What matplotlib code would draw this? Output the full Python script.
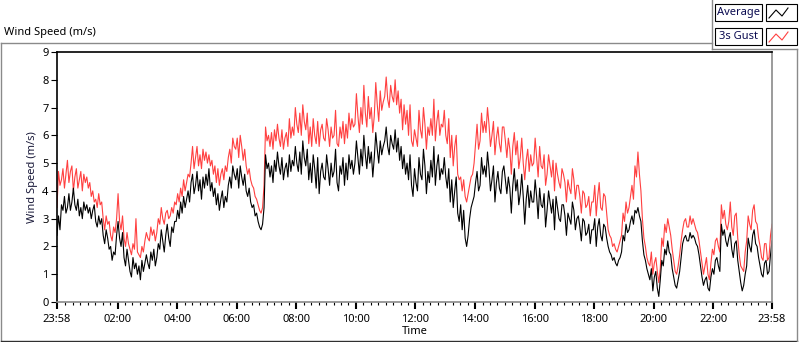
import numpy as np
import matplotlib
matplotlib.use("Agg")
import matplotlib.pyplot as plt
from matplotlib.lines import Line2D
from matplotlib.patches import Rectangle

plt.rcParams['font.family'] = ['Noto Sans', 'DejaVu Sans']

# ---------------- data (3-minute samples, 23:58 -> 23:58) ----------------
sample_minutes = 3
avg_speed = [
    2.4, 3.1, 2.6, 3.5, 3.3, 3.8, 3.2, 3.4, 3.9, 3.3, 3.6, 4.1, 3.5, 3.3, 3.7, 3.1, 3.4, 3.0, 3.6, 3.3,
    3.5, 3.2, 3.4, 3.0, 3.3, 3.5, 2.9, 2.7, 3.1, 2.8, 3.0, 2.4, 2.1, 2.6, 2.3, 1.9, 2.0, 1.5, 1.8, 1.7,
    2.4, 2.9, 2.3, 2.0, 2.5, 1.6, 1.3, 1.9, 1.5, 1.1, 0.9, 1.6, 1.2, 1.4, 1.0, 1.3, 0.8, 1.5, 1.1, 1.4,
    1.7, 1.4, 1.2, 1.8, 1.5, 1.9, 1.3, 1.6, 2.1, 1.9, 2.6, 2.2, 1.8, 2.4, 2.8, 2.3, 2.0, 2.7, 2.5, 2.9,
    2.9, 3.3, 3.0, 3.6, 3.2, 3.8, 3.4, 3.7, 4.0, 3.6, 4.3, 4.6, 3.9, 4.2, 4.7, 4.0, 4.4, 3.7, 4.5, 4.1,
    4.6, 4.2, 4.8, 4.0, 4.3, 3.8, 4.1, 3.5, 3.9, 3.3, 3.7, 4.0, 3.4, 3.8, 3.6, 4.2, 4.5, 4.1, 4.9, 4.6,
    4.4, 4.8, 4.1, 4.9, 4.5, 4.2, 4.6, 4.0, 3.8, 4.1, 3.6, 3.4, 3.5, 3.1, 3.2, 2.9, 2.7, 2.6, 2.8, 3.4,
    5.3, 4.8, 5.0, 4.5, 4.9, 4.3, 5.1, 4.7, 5.4, 4.9, 4.6, 5.2, 4.4, 4.8, 5.0, 4.5, 5.3, 4.7, 5.1, 4.9,
    5.6, 5.0, 4.7, 5.4, 4.6, 5.8, 5.2, 4.9, 5.5, 4.4, 5.0, 4.3, 5.3, 4.8, 4.1, 5.2, 3.9, 4.7, 5.0, 4.5,
    4.4, 5.3, 4.8, 4.2, 5.0, 4.5, 4.7, 5.5, 4.3, 4.0, 4.9, 4.6, 5.2, 4.2, 5.0, 4.4, 5.3, 4.8, 5.1, 4.6,
    5.0, 5.8, 5.2, 4.6, 5.5, 4.9, 6.0, 5.3, 4.8, 5.6, 5.0, 5.4, 4.5, 5.2, 6.1, 5.5, 5.0, 5.8, 5.3, 5.6,
    5.8, 6.3, 5.6, 5.3, 6.0, 5.7, 5.5, 6.2, 5.4, 5.9, 5.1, 5.6, 4.8, 5.3, 4.6, 5.0, 4.4, 5.3, 4.2, 3.8,
    4.8, 4.3, 4.0, 5.2, 4.6, 4.4, 5.5, 4.9, 3.9, 4.7, 4.3, 5.1, 4.5, 5.6, 4.2, 4.9, 5.3, 4.4, 4.8, 4.6,
    5.2, 4.5, 4.1, 4.8, 3.6, 4.4, 3.4, 4.0, 4.5, 3.2, 2.9, 3.5, 2.6, 3.3, 2.3, 2.0, 2.4, 3.0, 3.4, 3.6,
    3.8, 4.3, 4.7, 4.0, 4.2, 5.2, 4.6, 4.9, 4.5, 5.4, 4.8, 4.0, 4.4, 4.9, 3.6, 4.3, 4.7, 4.1, 3.9, 4.7,
    4.9, 4.4, 3.9, 4.5, 4.1, 3.2, 4.2, 4.8, 4.0, 4.4, 3.5, 3.9, 4.6, 3.8, 2.8, 3.7, 4.2, 3.4, 4.0, 3.6,
    3.6, 4.4, 3.8, 3.0, 4.1, 3.5, 3.4, 3.9, 2.7, 3.3, 4.0, 3.6, 3.2, 3.7, 2.6, 3.8, 3.4, 3.0, 2.9, 3.5,
    3.5, 3.1, 2.4, 3.2, 3.0, 2.8, 3.6, 3.3, 2.6, 3.0, 3.1, 2.7, 2.2, 3.0, 2.9, 2.4, 2.5, 2.8, 2.1, 2.6,
    2.6, 3.0, 2.0, 2.7, 3.0, 2.4, 2.2, 2.8, 2.7, 2.3, 2.0, 1.8, 1.7, 1.5, 1.6, 1.4, 1.3, 1.5, 1.6, 1.8,
    2.4, 2.2, 2.8, 2.5, 2.6, 2.9, 3.1, 2.8, 3.3, 3.2, 3.4, 3.1, 2.9, 2.2, 1.7, 1.5, 1.2, 1.0, 0.8, 1.2,
    0.4, 0.9, 1.1, 0.5, 0.2, 0.8, 1.5, 1.3, 1.9, 1.7, 2.2, 1.8, 1.7, 1.2, 0.9, 0.6, 0.5, 0.8, 1.1, 1.6,
    2.1, 2.3, 2.4, 2.2, 2.2, 2.5, 2.3, 2.4, 2.3, 2.1, 2.0, 1.7, 1.3, 0.9, 0.6, 0.8, 0.9, 0.5, 0.4, 0.9,
    1.2, 1.0, 1.5, 1.6, 1.3, 1.1, 2.8, 2.4, 2.6, 2.2, 2.0, 2.3, 2.5, 1.9, 1.6, 2.1, 2.2, 1.5, 1.1, 0.7,
    0.4, 0.6, 1.0, 1.3, 2.3, 2.0, 1.8, 2.4, 2.6, 2.1, 2.0, 1.6, 1.3, 1.0, 0.9, 1.4, 1.5, 1.0, 1.1, 1.7,
    2.2,
]
gust_speed = [
    3.4, 4.7, 4.2, 4.4, 4.8, 4.1, 4.6, 5.1, 4.3, 4.7, 4.9, 4.0, 4.5, 4.8, 4.1, 4.4, 4.7, 4.0, 4.6, 4.3,
    4.5, 4.1, 4.3, 3.8, 4.0, 3.6, 3.7, 3.4, 3.9, 3.5, 3.6, 3.0, 2.6, 3.1, 2.8, 2.9, 2.4, 2.2, 2.7, 2.5,
    3.0, 3.9, 2.9, 2.6, 3.1, 2.3, 2.0, 2.5, 2.1, 1.9, 1.7, 2.1, 1.9, 3.0, 1.8, 1.7, 1.6, 2.0, 1.8, 2.2,
    2.5, 2.3, 2.2, 2.7, 2.4, 2.6, 2.2, 2.5, 3.0, 2.8, 3.4, 3.0, 2.8, 3.2, 3.3, 3.0, 3.1, 3.4, 3.2, 3.6,
    3.5, 3.9, 3.6, 4.1, 3.8, 4.4, 4.0, 4.3, 4.6, 4.5, 5.0, 5.6, 4.8, 5.2, 5.6, 4.9, 5.3, 4.8, 5.5, 5.1,
    5.4, 5.0, 5.3, 4.9, 5.1, 4.6, 4.9, 4.3, 4.8, 4.2, 4.6, 4.8, 4.4, 4.9, 4.7, 5.2, 5.5, 5.0, 5.9, 5.6,
    5.5, 5.9, 5.2, 6.0, 5.6, 5.1, 5.5, 4.9, 4.6, 4.8, 4.4, 4.2, 4.1, 3.8, 3.7, 3.5, 3.3, 3.2, 3.4, 4.2,
    6.3, 5.8, 6.0, 5.6, 6.1, 5.5, 6.2, 5.8, 6.4, 5.9, 5.6, 6.2, 5.5, 5.9, 6.1, 5.6, 6.6, 5.9, 6.3, 6.0,
    7.0, 6.4, 6.1, 6.8, 6.0, 7.1, 6.5, 6.2, 6.8, 5.7, 6.3, 5.6, 6.6, 6.0, 5.7, 6.5, 5.6, 6.2, 6.4, 5.9,
    5.8, 6.6, 6.2, 5.6, 6.3, 5.9, 6.0, 6.9, 5.7, 5.6, 6.3, 5.9, 6.5, 5.7, 6.4, 5.9, 6.8, 6.2, 6.6, 6.3,
    6.4, 7.5, 6.7, 6.1, 7.0, 6.4, 7.8, 6.8, 6.3, 7.4, 6.6, 7.0, 6.1, 6.7, 7.9, 7.1, 6.5, 7.6, 6.9, 7.2,
    7.4, 8.1, 7.3, 7.0, 7.8, 7.4, 7.2, 8.0, 7.1, 7.6, 6.8, 7.3, 6.2, 7.1, 6.4, 6.9, 6.0, 7.1, 5.8, 5.6,
    6.2, 5.9, 5.6, 6.9, 6.2, 5.9, 7.0, 6.4, 5.5, 6.3, 6.0, 6.6, 6.0, 7.3, 5.8, 6.5, 6.9, 6.0, 6.4, 6.3,
    6.9, 6.0, 5.7, 6.6, 5.2, 6.0, 4.9, 5.6, 6.0, 4.6, 4.4, 4.5, 4.0, 4.4, 3.8, 3.6, 3.9, 4.2, 4.5, 4.6,
    5.0, 5.7, 6.4, 5.5, 5.8, 6.8, 6.1, 6.5, 6.1, 7.0, 6.4, 5.6, 6.0, 6.5, 5.3, 5.9, 6.3, 5.7, 5.4, 6.3,
    6.3, 5.8, 5.2, 5.9, 5.5, 4.6, 5.6, 6.1, 5.3, 5.8, 4.8, 5.2, 5.9, 5.0, 4.4, 5.1, 5.5, 4.7, 5.3, 4.9,
    5.0, 5.9, 5.2, 4.5, 5.6, 4.9, 4.8, 5.3, 4.2, 4.6, 5.3, 4.9, 4.5, 5.1, 4.0, 5.0, 4.6, 4.3, 4.1, 4.8,
    4.6, 4.3, 3.6, 4.4, 4.1, 3.9, 4.8, 4.4, 3.7, 4.2, 4.2, 3.8, 3.2, 4.0, 3.9, 3.4, 3.5, 3.8, 3.1, 3.6,
    3.6, 4.2, 3.1, 3.8, 4.3, 3.4, 3.3, 3.9, 3.8, 3.2, 2.6, 2.4, 2.3, 2.0, 2.1, 1.9, 1.8, 2.0, 2.2, 2.4,
    3.2, 2.9, 3.6, 3.2, 3.4, 3.8, 4.2, 3.7, 4.9, 4.5, 5.4, 4.6, 4.0, 3.0, 2.3, 2.0, 1.6, 1.4, 1.3, 1.8,
    1.0, 1.4, 1.6, 1.1, 0.7, 1.2, 2.3, 2.0, 2.8, 2.5, 3.0, 2.7, 2.4, 1.9, 1.5, 1.1, 1.0, 1.3, 1.7, 2.2,
    2.6, 2.9, 3.0, 2.7, 2.7, 3.1, 2.8, 3.0, 2.8, 2.6, 2.5, 2.2, 1.8, 1.4, 1.0, 1.3, 1.6, 1.0, 0.8, 1.4,
    1.9, 1.7, 2.2, 2.3, 2.0, 1.8, 3.5, 3.0, 3.3, 2.8, 2.6, 2.9, 3.6, 2.7, 2.4, 3.1, 3.2, 2.3, 1.7, 1.3,
    1.2, 1.1, 1.8, 2.2, 3.1, 2.8, 2.6, 3.3, 3.5, 2.9, 2.8, 2.3, 2.0, 1.6, 1.5, 2.1, 2.1, 1.5, 1.6, 2.4,
    2.8,
]
tick_hours = [0, 2 + 2/60, 4 + 2/60, 6 + 2/60, 8 + 2/60, 10 + 2/60, 12 + 2/60,
              14 + 2/60, 16 + 2/60, 18 + 2/60, 20 + 2/60, 22 + 2/60, 24]
tick_labels = ["23:58", "02:00", "04:00", "06:00", "08:00", "10:00", "12:00",
               "14:00", "16:00", "18:00", "20:00", "22:00", "23:58"]
series_names = ["Average", "3s Gust"]

t_avg = np.arange(len(avg_speed)) * sample_minutes / 60.0
t_gust = np.arange(len(gust_speed)) * sample_minutes / 60.0

# ---------------- figure ----------------
W, H = 800, 342
fig = plt.figure(figsize=(W / 100, H / 100), dpi=100)

def fx(px):
    return px / W

def fy(py):
    return 1 - py / H

FS = 8

ax = fig.add_axes([fx(57), fy(302), fx(772 - 57), (302 - 52) / H])
ax.plot(t_gust, gust_speed, color='#ff4040', lw=0.8)
ax.plot(t_avg, avg_speed, color='black', lw=0.8)
ax.set_xlim(0, 24)
ax.set_ylim(0, 9)
ax.set_yticks(range(0, 10))
ax.set_xticks(tick_hours)
ax.set_xticklabels(tick_labels)
ax.set_xticks(np.arange(0.25 + 2/60, 24, 0.25), minor=True)
ax.tick_params(axis='both', which='major', labelsize=FS, length=4, width=0.8,
               colors='black', pad=2)
ax.tick_params(axis='x', which='minor', length=2, width=0.8)
ax.tick_params(axis='x', which='major', length=5, width=1.5, pad=4)
for s in ['left', 'top']:
    ax.spines[s].set_color('black')
    ax.spines[s].set_linewidth(1.2)
for s in ['right', 'bottom']:
    ax.spines[s].set_color('#8a8a8a')
    ax.spines[s].set_linewidth(1.2)
ax.set_ylabel("Wind Speed (m/s)", fontsize=FS, color='#1a1a3a', labelpad=3)
ax.set_xlabel("Time", fontsize=FS, color='black', labelpad=0)

# title
fig.text(fx(4), fy(32), "Wind Speed (m/s)", fontsize=FS, va='center', ha='left')

# outer frame
frame_kw = dict(transform=fig.transFigure, color='#8a8a8a', lw=1.0)
fig.add_artist(Line2D([fx(0.5), fx(712)], [fy(42.5), fy(42.5)], **frame_kw))
fig.add_artist(Line2D([fx(0.5), fx(0.5)], [fy(42.5), fy(341)], **frame_kw))
fig.add_artist(Line2D([fx(0.5), fx(797)], [fy(341), fy(341)], transform=fig.transFigure,
                      color='#303030', lw=1.0))
fig.add_artist(Line2D([fx(797), fx(797)], [fy(49), fy(341)], **frame_kw))
fig.add_artist(Line2D([fx(712), fx(712)], [fy(0), fy(49)], **frame_kw))
fig.add_artist(Line2D([fx(712), fx(797)], [fy(49), fy(49)], **frame_kw))

# legend (LabVIEW style)
colors = ['black', '#ff4040']
for i, (name, c) in enumerate(zip(series_names, colors)):
    top = 4 + i * 24
    fig.add_artist(Rectangle((fx(715), fy(top + 17)), fx(47), 17 / H, transform=fig.transFigure,
                             facecolor='white', edgecolor='black', lw=0.8))
    fig.text(fx(738.5), fy(top + 8.5), name, fontsize=FS, color='#0a0a50',
             ha='center', va='center')
    fig.add_artist(Rectangle((fx(766), fy(top + 17)), fx(31), 17 / H, transform=fig.transFigure,
                             facecolor='white', edgecolor='black', lw=0.8))
    zx = [769, 776, 782, 788]
    zy = [top + 14, top + 6, top + 12, top + 4]
    fig.add_artist(Line2D([fx(v) for v in zx], [fy(v) for v in zy],
                          transform=fig.transFigure, color=c, lw=0.8))

fig.savefig("out.png", dpi=100)
